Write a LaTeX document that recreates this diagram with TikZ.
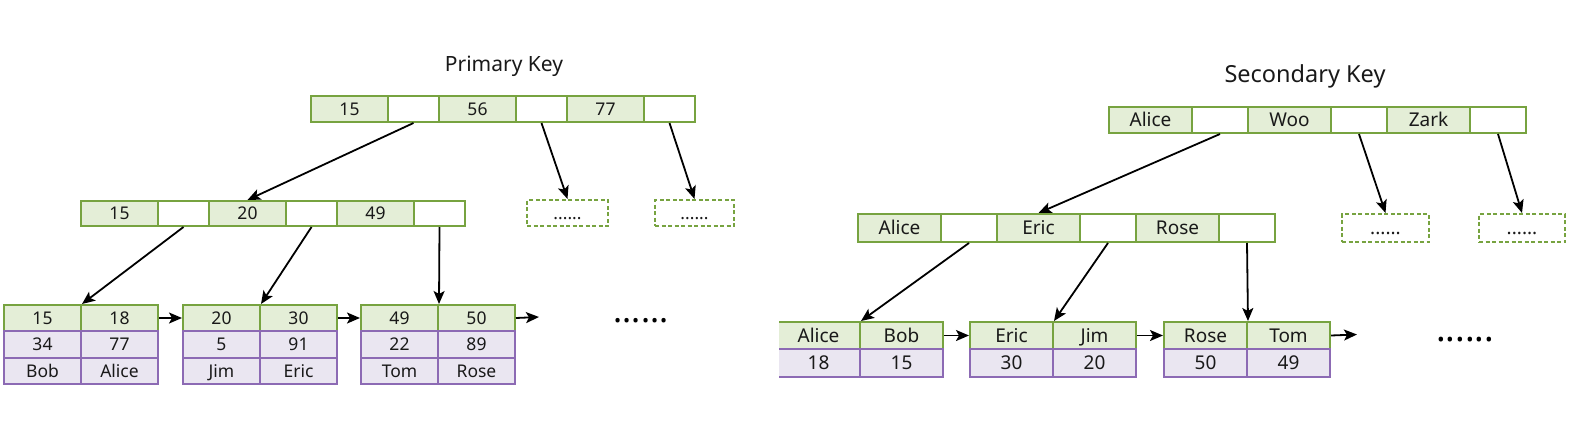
\documentclass[tikz,border=0pt]{standalone}
\usepackage{fontspec}
\setmainfont{Noto Sans}
\usetikzlibrary{arrows.meta}

\definecolor{keygreen}{RGB}{119,163,64}
\definecolor{keyfill}{RGB}{228,238,215}
\definecolor{rowpurple}{RGB}{140,106,180}
\definecolor{rowfill}{RGB}{234,230,241}

\tikzset{
  cell/.style={rectangle, draw, line width=2pt, anchor=north west, inner sep=1pt,
    minimum height=26pt, text depth=0pt, text=black!90},
  keycell/.style={cell, draw=keygreen, fill=keyfill},
  ptrcell/.style={cell, draw=keygreen, fill=white},
  rowcell/.style={cell, draw=rowpurple, fill=rowfill},
  morebox/.style={cell, draw=keygreen, dash pattern=on 4pt off 2.5pt},
  title/.style={text=black!90},
  link/.style={->, line width=1.8pt}
}

\begin{document}
\begin{tikzpicture}[x=1pt, y=-1pt, >={Stealth[length=13pt,width=11pt,inset=3pt]}]
\useasboundingbox (0,0) rectangle (1590,447);

%% primary key index
\begin{scope}[every node/.append style={font=\fontsize{17.5}{20}\selectfont},
  cell/.append style={text height=12.6pt}]
\node[title, font=\fontsize{21}{24}\selectfont] (ptitle) at (504,66) {Primary Key};

% root
\foreach \k [count=\i] in {15,56,77} {
  \node[keycell, minimum width=77pt] (pk\i) at ({310+128*(\i-1)},95) {\k};
  \node[ptrcell, minimum width=51pt] (pp\i) at ({387+128*(\i-1)},95) {};
}

% inner node
\foreach \k [count=\i] in {15,20,49} {
  \node[keycell, minimum width=77pt, minimum height=25pt] (mk\i) at ({80+128*(\i-1)},200) {\k};
  \node[ptrcell, minimum width=51pt, minimum height=25pt] (mp\i) at ({157+128*(\i-1)},200) {};
}

% children not shown
\node[morebox, minimum width=81pt] (pmore1) at (526,199) {......};
\node[morebox, minimum width=79pt] (pmore2) at (654,199) {......};

% leaves with the rows
\foreach \x/\ka/\kb/\ca/\cb/\na/\nb [count=\i] in
  {3/15/18/34/77/Bob/Alice, 182/20/30/5/91/Jim/Eric, 360/49/50/22/89/Tom/Rose} {
  \node[keycell, minimum width=77pt] (la\i) at (\x,304) {\ka};
  \node[keycell, minimum width=77pt] (lb\i) at ({\x+77},304) {\kb};
  \node[rowcell, minimum width=77pt, minimum height=27pt] (lc\i) at (\x,330) {\ca};
  \node[rowcell, minimum width=77pt, minimum height=27pt] (ld\i) at ({\x+77},330) {\cb};
  \node[rowcell, minimum width=77pt] (le\i) at (\x,357) {\na};
  \node[rowcell, minimum width=77pt] (lf\i) at ({\x+77},357) {\nb};
}

\node[font=\fontsize{34}{36}\selectfont] (pdots) at (641,321) {......};

% pointers
\draw[link] (pp1.south) -- (mk2.north);
\draw[link] (pp2.south) -- (pmore1.north);
\draw[link] (pp3.south) -- (pmore2.north);
\foreach \i in {1,2,3} {
  \draw[link] (mp\i.south) -- (la\i.north east);
}
\draw[link] (lb1.east) -- (la2.west);
\draw[link] (lb2.east) -- (la3.west);
\coordinate (pend) at (539,317);
\draw[link] (lb3.east) -- (pend);
\end{scope}

%% secondary key index
\begin{scope}[every node/.append style={font=\fontsize{19}{22}\selectfont},
  cell/.append style={text height=13.7pt}]
\clip (779,0) rectangle (1590,447);
\node[title, font=\fontsize{23.5}{26}\selectfont] (stitle) at (1305,76) {Secondary Key};

% root
\foreach \k [count=\i] in {Alice,Woo,Zark} {
  \node[keycell, minimum width=83pt] (sk\i) at ({1108+139*(\i-1)},106) {\k};
  \node[ptrcell, minimum width=56pt] (sp\i) at ({1191+139*(\i-1)},106) {};
}

% inner node
\foreach \k [count=\i] in {Alice,Eric,Rose} {
  \node[keycell, minimum width=83pt, minimum height=28pt] (nk\i) at ({857+139*(\i-1)},213) {\k};
  \node[ptrcell, minimum width=56pt, minimum height=28pt] (np\i) at ({940+139*(\i-1)},213) {};
}

% children not shown
\node[morebox, minimum width=87pt, minimum height=28pt] (smore1) at (1341,213) {......};
\node[morebox, minimum width=86pt, minimum height=28pt] (smore2) at (1478,213) {......};

% leaves with the primary keys
\foreach \x/\ka/\kb/\ca/\cb [count=\i] in
  {776/Alice/Bob/18/15, 969/Eric/Jim/30/20, 1163/Rose/Tom/50/49} {
  \node[keycell, minimum width=83pt, minimum height=27pt] (sa\i) at (\x,321) {\ka};
  \node[keycell, minimum width=83pt, minimum height=27pt] (sb\i) at ({\x+83},321) {\kb};
  \node[rowcell, minimum width=83pt, minimum height=28pt] (sc\i) at (\x,348) {\ca};
  \node[rowcell, minimum width=83pt, minimum height=28pt] (sd\i) at ({\x+83},348) {\cb};
}

\node[font=\fontsize{36}{38}\selectfont] (sdots) at (1465,340) {......};

% pointers
\draw[link] (sp1.south) -- (nk2.north);
\draw[link] (sp2.south) -- (smore1.north);
\draw[link] (sp3.south) -- (smore2.north);
\foreach \i in {1,2,3} {
  \draw[link] (np\i.south) -- (sa\i.north east);
}
\draw[link] (sb1.east) -- (sa2.west);
\draw[link] (sb2.east) -- (sa3.west);
\coordinate (send) at (1357,334.5);
\draw[link] (sb3.east) -- (send);
\end{scope}
\end{tikzpicture}
\end{document}
